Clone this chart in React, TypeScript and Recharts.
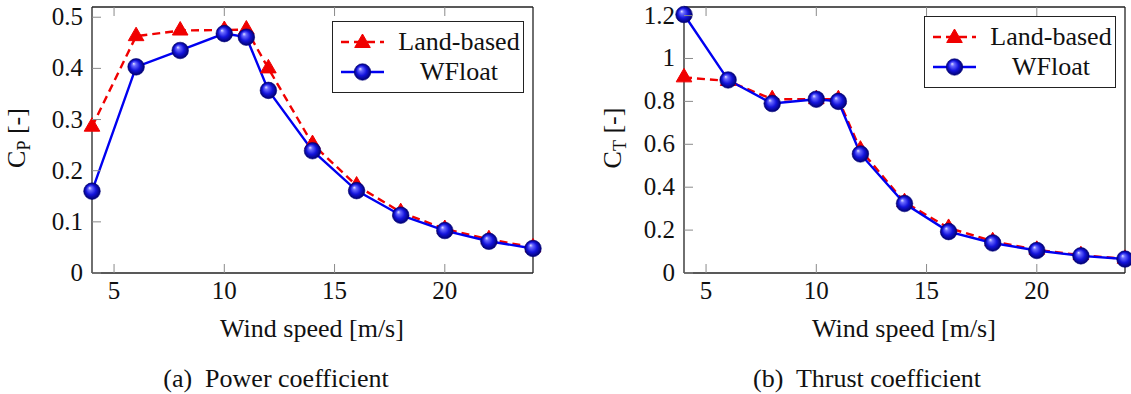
import React from 'react';
import { LineChart, Line, XAxis, YAxis, Legend } from 'recharts';

const windSpeed = [4, 6, 8, 10, 11, 12, 14, 16, 18, 20, 22, 24];
const cpLandBased = [0.286, 0.463, 0.474, 0.475, 0.476, 0.4, 0.252, 0.171, 0.119, 0.086, 0.066, 0.05];
const cpWFloat = [0.16, 0.403, 0.435, 0.468, 0.461, 0.357, 0.239, 0.161, 0.113, 0.083, 0.062, 0.048];
const ctLandBased = [0.912, 0.895, 0.81, 0.81, 0.81, 0.575, 0.33, 0.21, 0.148, 0.108, 0.083, 0.066];
const ctWFloat = [1.205, 0.9, 0.79, 0.81, 0.8, 0.555, 0.324, 0.193, 0.14, 0.105, 0.08, 0.065];

const xTicks = [5, 10, 15, 20];
const cpTicks = [0, 0.1, 0.2, 0.3, 0.4, 0.5];
const ctTicks = [0, 0.2, 0.4, 0.6, 0.8, 1, 1.2];

const seriesNames = { land: 'Land-based', wfloat: 'WFloat' };

const cpData = windSpeed.map((ws, i) => ({ ws, land: cpLandBased[i], wfloat: cpWFloat[i] }));
const ctData = windSpeed.map((ws, i) => ({ ws, land: ctLandBased[i], wfloat: ctWFloat[i] }));

const FONT = '"Liberation Serif", "Times New Roman"';
const RED = '#f00000';
const BLUE = '#0000f0';
const TICK_LEN = 9;

const Triangle = ({ cx, cy }: any) => {
  const r = 9;
  const h = r * 0.866;
  return (
    <polygon
      points={`${cx},${cy - r} ${cx + h},${cy + r / 2} ${cx - h},${cy + r / 2}`}
      fill={RED}
      stroke={RED}
      strokeWidth={1}
    />
  );
};

const Ball = ({ cx, cy, gid }: any) => (
  <circle cx={cx} cy={cy} r={8.3} fill={`url(#${gid})`} stroke="#00007a" strokeWidth={0.6} />
);

const BallGradient = ({ id }: { id: string }) => (
  <defs>
    <radialGradient id={id} cx="50%" cy="50%" r="50%" fx="35%" fy="30%">
      <stop offset="0%" stopColor="#e4e4ff" />
      <stop offset="22%" stopColor="#6a6aff" />
      <stop offset="60%" stopColor="#1414dc" />
      <stop offset="100%" stopColor="#00006e" />
    </radialGradient>
  </defs>
);

const BottomTick = ({ x, y, payload }: any) => (
  <g>
    <line x1={x} y1={y} x2={x} y2={y - TICK_LEN} stroke="#8a8a8a" strokeWidth={1} />
    <text x={x} y={y + 26} textAnchor="middle" fontFamily={FONT} fontSize={25} fill="#111">
      {String(payload.value)}
    </text>
  </g>
);

const TopTick = ({ x, y }: any) => (
  <line x1={x} y1={y} x2={x} y2={y + TICK_LEN} stroke="#8a8a8a" strokeWidth={1} />
);

const LeftTick = ({ x, y, payload }: any) => (
  <g>
    <line x1={x} y1={y} x2={x + TICK_LEN} y2={y} stroke="#8a8a8a" strokeWidth={1} />
    <text x={x - 9} y={y + 8} textAnchor="end" fontFamily={FONT} fontSize={25} fill="#111">
      {String(payload.value)}
    </text>
  </g>
);

const RightTick = ({ x, y }: any) => (
  <line x1={x} y1={y} x2={x - TICK_LEN} y2={y} stroke="#8a8a8a" strokeWidth={1} />
);

const LegendBox = ({ gid }: { gid: string }) => (
  <div
    style={{
      border: '1px solid #222',
      background: '#fff',
      width: 190,
      padding: '5px 0',
      fontFamily: FONT,
      fontSize: 26,
      color: '#111',
    }}
  >
    {(['land', 'wfloat'] as const).map((key) => (
      <div key={key} style={{ display: 'flex', alignItems: 'center', height: 30 }}>
        <svg width={56} height={30} style={{ marginLeft: 8, flex: 'none' }}>
          {key === 'land' ? (
            <>
              <line x1={0} y1={15} x2={43} y2={15} stroke={RED} strokeWidth={2.4} strokeDasharray="8 5" />
              <Triangle cx={21.5} cy={16} />
            </>
          ) : (
            <>
              <line x1={0} y1={15} x2={43} y2={15} stroke={BLUE} strokeWidth={2.4} />
              <Ball cx={21.5} cy={15} gid={gid} />
            </>
          )}
        </svg>
        <span style={{ width: 124, textAlign: 'center', lineHeight: '30px' }}>{seriesNames[key]}</span>
      </div>
    ))}
  </div>
);

const axisLine = { stroke: '#222', strokeWidth: 1.3 };

const CoefChart = ({ data, yMax, yTicks, marginLeft, width, legendLeft, legendTop, gid }: any) => (
  <LineChart
    width={width}
    height={310}
    data={data}
    margin={{ top: 6, right: width - marginLeft - 441 - 1, bottom: 36, left: marginLeft - 1 }}
  >
    <BallGradient id={gid} />
    <XAxis
      dataKey="ws"
      type="number"
      domain={[4, 24]}
      ticks={xTicks}
      interval={0}
      height={1}
      tickSize={0}
      tickMargin={0}
      tickLine={false}
      tick={<BottomTick />}
      axisLine={axisLine}
    />
    <XAxis
      xAxisId="top"
      orientation="top"
      dataKey="ws"
      type="number"
      domain={[4, 24]}
      ticks={xTicks}
      interval={0}
      height={1}
      tickSize={0}
      tickMargin={0}
      tickLine={false}
      tick={<TopTick />}
      axisLine={axisLine}
    />
    <YAxis
      type="number"
      domain={[0, yMax]}
      ticks={yTicks}
      interval={0}
      width={1}
      tickSize={0}
      tickMargin={0}
      tickLine={false}
      tick={<LeftTick />}
      axisLine={axisLine}
    />
    <YAxis
      yAxisId="right"
      orientation="right"
      type="number"
      domain={[0, yMax]}
      ticks={yTicks}
      interval={0}
      width={1}
      tickSize={0}
      tickMargin={0}
      tickLine={false}
      tick={<RightTick />}
      axisLine={axisLine}
    />
    <Line
      dataKey="land"
      name={seriesNames.land}
      stroke={RED}
      strokeWidth={2.4}
      strokeDasharray="8 5"
      dot={(p: any) => <Triangle key={`t-${p.index}`} cx={p.cx} cy={p.cy} />}
      isAnimationActive={false}
    />
    <Line
      dataKey="wfloat"
      name={seriesNames.wfloat}
      stroke={BLUE}
      strokeWidth={2.4}
      dot={(p: any) => <Ball key={`b-${p.index}`} cx={p.cx} cy={p.cy} gid={gid} />}
      isAnimationActive={false}
    />
    <Legend
      layout="vertical"
      align="center"
      verticalAlign="middle"
      content={() => <LegendBox gid={gid} />}
      wrapperStyle={{ left: legendLeft, top: legendTop, width: 192, height: 72 }}
    />
  </LineChart>
);

const textStyle: React.CSSProperties = {
  position: 'absolute',
  fontFamily: FONT,
  fontSize: 26,
  lineHeight: '26px',
  color: '#111',
  whiteSpace: 'nowrap',
  textAlign: 'center',
};

const YTitle = ({ cx, sub }: { cx: number; sub: string }) => (
  <div
    style={{
      ...textStyle,
      left: cx - 60,
      top: 124,
      width: 120,
      transform: 'rotate(-90deg)',
    }}
  >
    C<span style={{ fontSize: 18, position: 'relative', top: 5 }}>{sub}</span> [-]
  </div>
);

export default function App() {
  return (
    <div style={{ position: 'absolute', left: 0, top: 0, width: 1131, height: 394, background: '#fff' }}>
      <div style={{ position: 'absolute', left: 0, top: 0 }}>
        <CoefChart data={cpData} yMax={0.52} yTicks={cpTicks} marginLeft={92} width={560} legendLeft={332} legendTop={21} gid="ballA" />
      </div>
      <div style={{ position: 'absolute', left: 570, top: 0 }}>
        <CoefChart data={ctData} yMax={1.24} yTicks={ctTicks} marginLeft={114} width={561} legendLeft={354} legendTop={16} gid="ballB" />
      </div>

      <YTitle cx={18} sub="P" />
      <YTitle cx={614} sub="T" />

      <div style={{ ...textStyle, left: 202, top: 316, width: 220 }}>Wind speed [m/s]</div>
      <div style={{ ...textStyle, left: 794, top: 316, width: 220 }}>Wind speed [m/s]</div>

      <div style={{ ...textStyle, left: 146, top: 366, width: 260 }}>(a)&nbsp; Power coefficient</div>
      <div style={{ ...textStyle, left: 737, top: 366, width: 260 }}>(b)&nbsp; Thrust coefficient</div>
    </div>
  );
}
